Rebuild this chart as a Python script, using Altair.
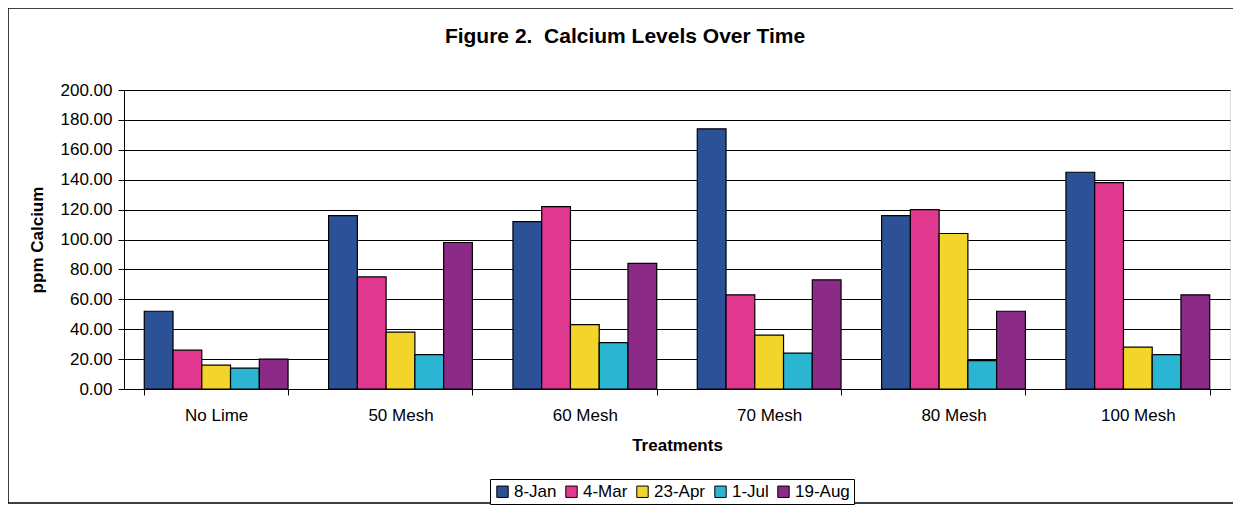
import altair as alt
import pandas as pd

treatments = ["No Lime", "50 Mesh", "60 Mesh", "70 Mesh", "80 Mesh", "100 Mesh"]
dates = ["8-Jan", "4-Mar", "23-Apr", "1-Jul", "19-Aug"]
jan8 = [52, 116, 112, 174, 116, 145]
mar4 = [26, 75, 122, 63, 120, 138]
apr23 = [16, 38, 43, 36, 104, 28]
jul1 = [14, 23, 31, 24, 19, 23]
aug19 = [20, 98, 84, 73, 52, 63]
colors = ["#2c5196", "#e0378f", "#f3d42a", "#2cb5d3", "#8c2a88"]

rows = []
for series, name in zip([jan8, mar4, apr23, jul1, aug19], dates):
    for t, v in zip(treatments, series):
        rows.append({"Treatment": t, "Date": name, "Calcium": v})
df = pd.DataFrame(rows)

FONT = "Liberation Sans"

bars = alt.Chart(df).mark_bar(stroke="black", strokeWidth=1.2).encode(
    x=alt.X("Treatment:N", sort=treatments,
            scale=alt.Scale(paddingInner=0.22, paddingOuter=0.11),
            axis=alt.Axis(title="Treatments", labelAngle=0, tickBand="extent",
                          domainColor="black", tickColor="black", tickSize=6,
                          labelFontSize=17, labelPadding=12, labelColor="black",
                          titleFontSize=17, titlePadding=14, titleColor="black",
                          labelFont=FONT, titleFont=FONT, grid=False)),
    xOffset=alt.XOffset("Date:N", sort=dates, scale=alt.Scale(paddingInner=0, paddingOuter=0)),
    y=alt.Y("Calcium:Q", scale=alt.Scale(domain=[0, 200]),
            axis=alt.Axis(title="ppm Calcium", format=".2f", values=list(range(0, 201, 20)),
                          domainColor="black", tickColor="black", tickSize=6,
                          gridColor="black", gridWidth=1,
                          labelFontSize=17, labelPadding=6, labelColor="black",
                          titleFontSize=17, titlePadding=14, titleColor="black",
                          labelFont=FONT, titleFont=FONT)),
    color=alt.Color("Date:N", sort=dates, scale=alt.Scale(domain=dates, range=colors),
                    legend=alt.Legend(title=None, orient="none", direction="horizontal",
                                      legendX=366, legendY=389,
                                      strokeColor="black", fillColor="white", padding=4,
                                      symbolType="square", symbolSize=130,
                                      symbolStrokeColor="black", symbolStrokeWidth=1,
                                      labelFontSize=17, labelFont=FONT, labelColor="black",
                                      columnPadding=6, labelOffset=3)),
)

frame = alt.Chart(pd.DataFrame({"k": [0]})).mark_rect(
    fill=None, stroke="black", strokeWidth=1.5, clip=False
).encode(x=alt.value(-116), x2=alt.value(1112), y=alt.value(-82), y2=alt.value(413))

chart = alt.layer(bars, frame).properties(
    width=1106, height=299,
    padding={"left": 116, "top": 82, "right": 3, "bottom": 116},
    autosize=alt.AutoSizeParams(type="none"),
    title=alt.Title("Figure 2.\u00a0\u00a0Calcium Levels Over Time", fontSize=21, font=FONT,
                    fontWeight="bold", color="black", anchor="middle", dx=-52, offset=-40),
).configure_view(fill="#c0c0c0", stroke="#808080").configure(background="white")

chart.save("out.html", embed_options={"renderer": "svg", "actions": False})
